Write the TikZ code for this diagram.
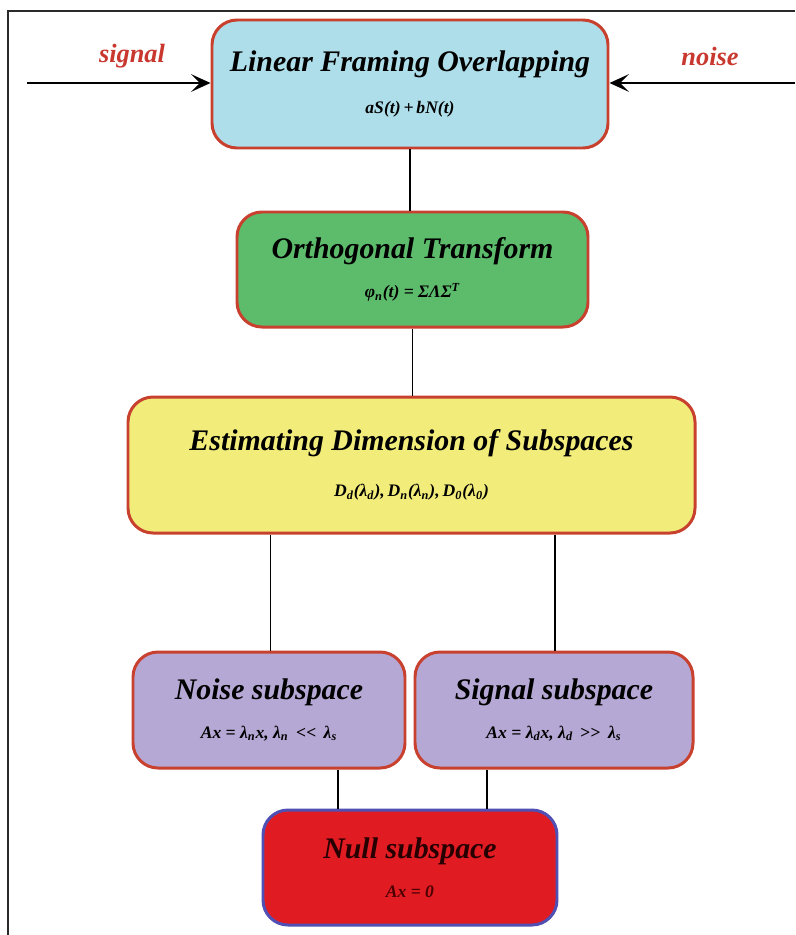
\documentclass[tikz,border=0pt]{standalone}
\usepackage{fontspec}
\setmainfont{Liberation Serif}
\usetikzlibrary{arrows.meta}
\definecolor{boxborder}{HTML}{C8412F}
\definecolor{cyanfill}{HTML}{AEDEE9}
\definecolor{greenfill}{HTML}{5DBB6C}
\definecolor{yellowfill}{HTML}{F2EC7A}
\definecolor{purplefill}{HTML}{B5A8D4}
\definecolor{redfill}{HTML}{E11B22}
\definecolor{nullborder}{HTML}{5050B4}
\definecolor{labelred}{HTML}{C9382E}
\definecolor{frameink}{HTML}{2A2A2A}
\tikzset{
  blockbox/.style={draw=boxborder, line width=1.7pt, rounded corners=0.5cm, align=center, inner sep=0pt},
  conn/.style={line width=1.1pt, black},
  inarrow/.style={line width=1.1pt, black, -{Stealth[length=11pt,width=10pt,inset=5pt]}},
  sidelabel/.style={text=labelred, font=\fontsize{15}{18}\selectfont\bfseries\itshape},
}
\newcommand{\ttl}[1]{{\fontsize{17}{20}\selectfont\bfseries\itshape #1}}
\newcommand{\fml}[1]{{\fontsize{10}{12}\selectfont\bfseries\itshape #1}}
\begin{document}
\begin{tikzpicture}
\useasboundingbox (0,0) rectangle (15.9,-18.7);
\fill[white] (0,0) rectangle (15.9,-18.7);
% frame
\draw[frameink, line width=1.6pt] (0.16,-18.7) -- (0.16,-0.22) -- (15.9,-0.22);

% boxes
\node[blockbox, fill=cyanfill, minimum width=7.92cm, minimum height=2.56cm] (lfo) at (8.2,-1.68)
  {\ttl{Linear Framing Overlapping}\\[12pt]\fml{aS(t)\,+\,bN(t)}};
\node[blockbox, fill=greenfill, minimum width=7.02cm, minimum height=2.3cm] (ot) at (8.25,-5.39)
  {\ttl{Orthogonal Transform}\\[10pt]\fml{φ\textsubscript{n}(t) = ΣΛΣ\textsuperscript{T}}};
\node[blockbox, fill=yellowfill, minimum width=11.34cm, minimum height=2.72cm] (eds) at (8.23,-9.3)
  {\ttl{Estimating Dimension of Subspaces}\\[14pt]\fml{D\textsubscript{d}(λ\textsubscript{d}),\,D\textsubscript{n}(λ\textsubscript{n}),\,D\textsubscript{0}(λ\textsubscript{0})}};
\node[blockbox, fill=purplefill, minimum width=5.44cm, minimum height=2.32cm] (ns) at (5.38,-14.2)
  {\ttl{Noise subspace}\\[10pt]\fml{Ax = λ\textsubscript{n}x, λ\textsubscript{n} \,{\normalfont\bfseries<\kern0.02em<}\, λ\textsubscript{s}}};
\node[blockbox, fill=purplefill, minimum width=5.56cm, minimum height=2.32cm] (ss) at (11.08,-14.2)
  {\ttl{Signal subspace}\\[10pt]\fml{Ax = λ\textsubscript{d}x, λ\textsubscript{d} \,{\normalfont\bfseries>\kern0.02em>}\, λ\textsubscript{s}}};
\node[blockbox, draw=nullborder, fill=redfill, minimum width=5.88cm, minimum height=2.3cm] (null) at (8.2,-17.35)
  {\ttl{\color{black!85!red}Null subspace}\\[10pt]\fml{\color{black!70!red}Ax = 0}};

% inputs
\coordinate (sigstart) at (0.54,-1.66);
\coordinate (noisestart) at (15.9,-1.66);
\draw[inarrow] (sigstart) -- (sigstart -| lfo.west);
\draw[inarrow] (noisestart) -- (noisestart -| lfo.east);
\node[sidelabel] (siglab) at (2.64,-1.12) {signal};
\node[sidelabel] (noiselab) at (14.2,-1.12) {noise};

% connectors
\draw[conn] (lfo.south) -- (lfo.south |- ot.north);
\draw[conn] (ot.south) -- (ot.south |- eds.north);
\draw[conn] ([xshift=-2.82cm]eds.south) -- ([xshift=-2.82cm]eds.south |- ns.north);
\draw[conn] ([xshift=2.87cm]eds.south) -- ([xshift=2.87cm]eds.south |- ss.north);
\draw[conn] ([xshift=1.38cm]ns.south) -- ([xshift=1.38cm]ns.south |- null.north);
\draw[conn] ([xshift=-1.34cm]ss.south) -- ([xshift=-1.34cm]ss.south |- null.north);
\end{tikzpicture}
\end{document}
